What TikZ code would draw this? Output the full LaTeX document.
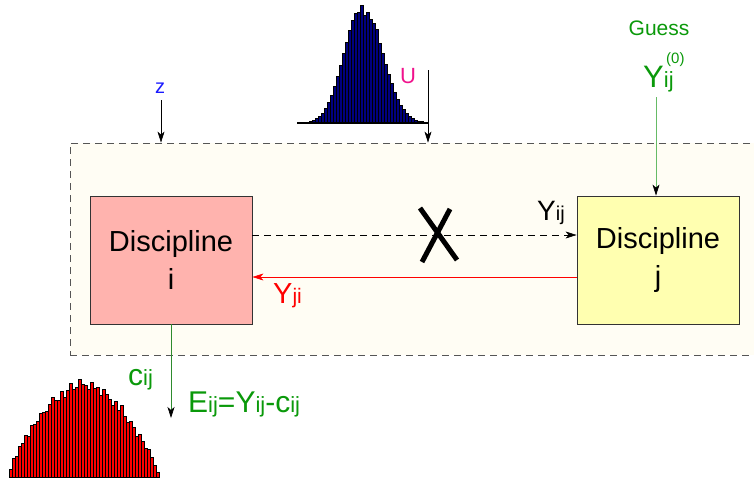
\documentclass[tikz,border=0pt]{standalone}
\usepackage{fontspec}
\setmainfont{Liberation Sans}
\usetikzlibrary{arrows.meta}
\definecolor{cream}{HTML}{FFFDF4}
\definecolor{pinkc}{HTML}{FFB3AE}
\definecolor{yelc}{HTML}{FFFFB0}
\definecolor{gtext}{HTML}{0A990A}
\definecolor{gline}{HTML}{2E8B2E}
\definecolor{glight}{HTML}{66BB66}
\definecolor{bluez}{HTML}{1A1AFF}
\definecolor{magu}{HTML}{F0128C}
\definecolor{navyc}{HTML}{00007F}
\definecolor{frame}{HTML}{555555}
\newcommand\fs[1]{\fontsize{#1}{#1}\selectfont}
\tikzset{
  tip/.style={-{Stealth[length=11pt,width=7pt,inset=3pt,color=black]}},
  disc/.style={draw=black!80, line width=0.8pt, minimum width=162pt, minimum height=128pt,
    align=center, font=\fontsize{29}{38}\selectfont, inner sep=0pt},
  lbl/.style={inner sep=0pt, anchor=base west},
  bar/.style={draw=black, line width=0.5pt},
  thin/.style={line width=0.7pt}
}
\begin{document}
\begin{tikzpicture}[x=1pt,y=-1pt]
\useasboundingbox (0,0) rectangle (754,479);
% system frame
\node[draw=frame, dash pattern=on 7pt off 5pt, fill=cream, line width=0.8pt,
  minimum width=690pt, minimum height=212pt, inner sep=0pt] (sys) at (415,249) {};
% disciplines
\node[disc, fill=pinkc] (di) at (171,260) {Discipline\\i};
\node[disc, fill=yelc] (dj) at (658,260) {Discipline\\j};
% coupling arrows
\draw[thin, dash pattern=on 7pt off 5pt, tip] ([yshift=25pt]di.east) -- ([yshift=25pt]dj.west);
\draw[thin, red, -{Stealth[length=11pt,width=7pt,inset=3pt]}] ([yshift=-17pt]dj.west) -- ([yshift=-17pt]di.east);
% cross
\draw[line width=5pt] (420,208) -- (457,260);
\draw[line width=5pt] (450,209) -- (422,262);
% labels of couplings
\node[lbl] (yij) at (537,220) {\fs{28}Y{\fs{20}ij}};
\node[lbl, text=red] (yji) at (273,303) {\fs{29}Y{\fs{21}ji}};
% z input
\node[lbl, anchor=base, text=bluez] (z) at (160,93) {\fs{20}z};
\coordinate (zs) at (161,100);
\draw[thin, tip] (zs) -- (zs |- sys.north);
% U input with histogram
\foreach \h [count=\i from 0] in {0.3,0.5,0.8,1.2,2,3,5,7,10,15,21,28,37,47,58,70,81,93,103,110,111,118,108,111,104,100,94,80,70,59,49,40,31,24,18,14,10,7,5,3,2,1.4,1}
  {\draw[bar, fill=navyc] ({297+3*\i},123) rectangle ++(3,-\h);}
\draw[line width=1.2pt] (297,123) -- (428,123);
\node[lbl, anchor=base, text=magu] (u) at (408,83) {\fs{22}U};
\coordinate (us) at (428,70);
\draw[thin, tip] (us) -- (us |- sys.north);
% guess
\node[lbl, anchor=base, text=gtext] (guess) at (659,35) {\fs{21}Guess};
\node[lbl, text=gtext] (y0) at (643,87) {\fs{31}Y{\fs{22}ij}};
\node[lbl, text=gtext] (y0sup) at (666,63) {\fs{15}(0)};
\coordinate (gs) at (656,97);
\draw[thin, glight, tip] (gs) -- (gs |- dj.north);
% output c
\coordinate (ce) at (171,418);
\draw[thin, gline, tip] (di.south) -- (ce);
\node[lbl, text=gtext] (cij) at (128,385) {\fs{30}c{\fs{22}ij}};
\node[lbl, text=gtext] (eij) at (188,412) {\fs{30}E{\fs{22}ij}=Y{\fs{22}ij}-c{\fs{22}ij}};
% output histogram
\foreach \n [count=\i from 0] in {-5,0,-3,2,0,3,-2,4,1,-1,3,0,-2,2,5,0,-3,4,-4,1,6,-1,0,8,3,2,-2,6,1,3,-3,5,2,0,-4,3,-2,6,-1,-3,2,0,-4,3,1,-2,2,0,-3,-5}
  {\pgfmathsetmacro\hh{90*cos(90*(3*\i-72.5)/80)+\n}
   \draw[bar, fill=red] ({9+3*\i},477) rectangle ++(3,-\hh);}
\end{tikzpicture}
\end{document}
